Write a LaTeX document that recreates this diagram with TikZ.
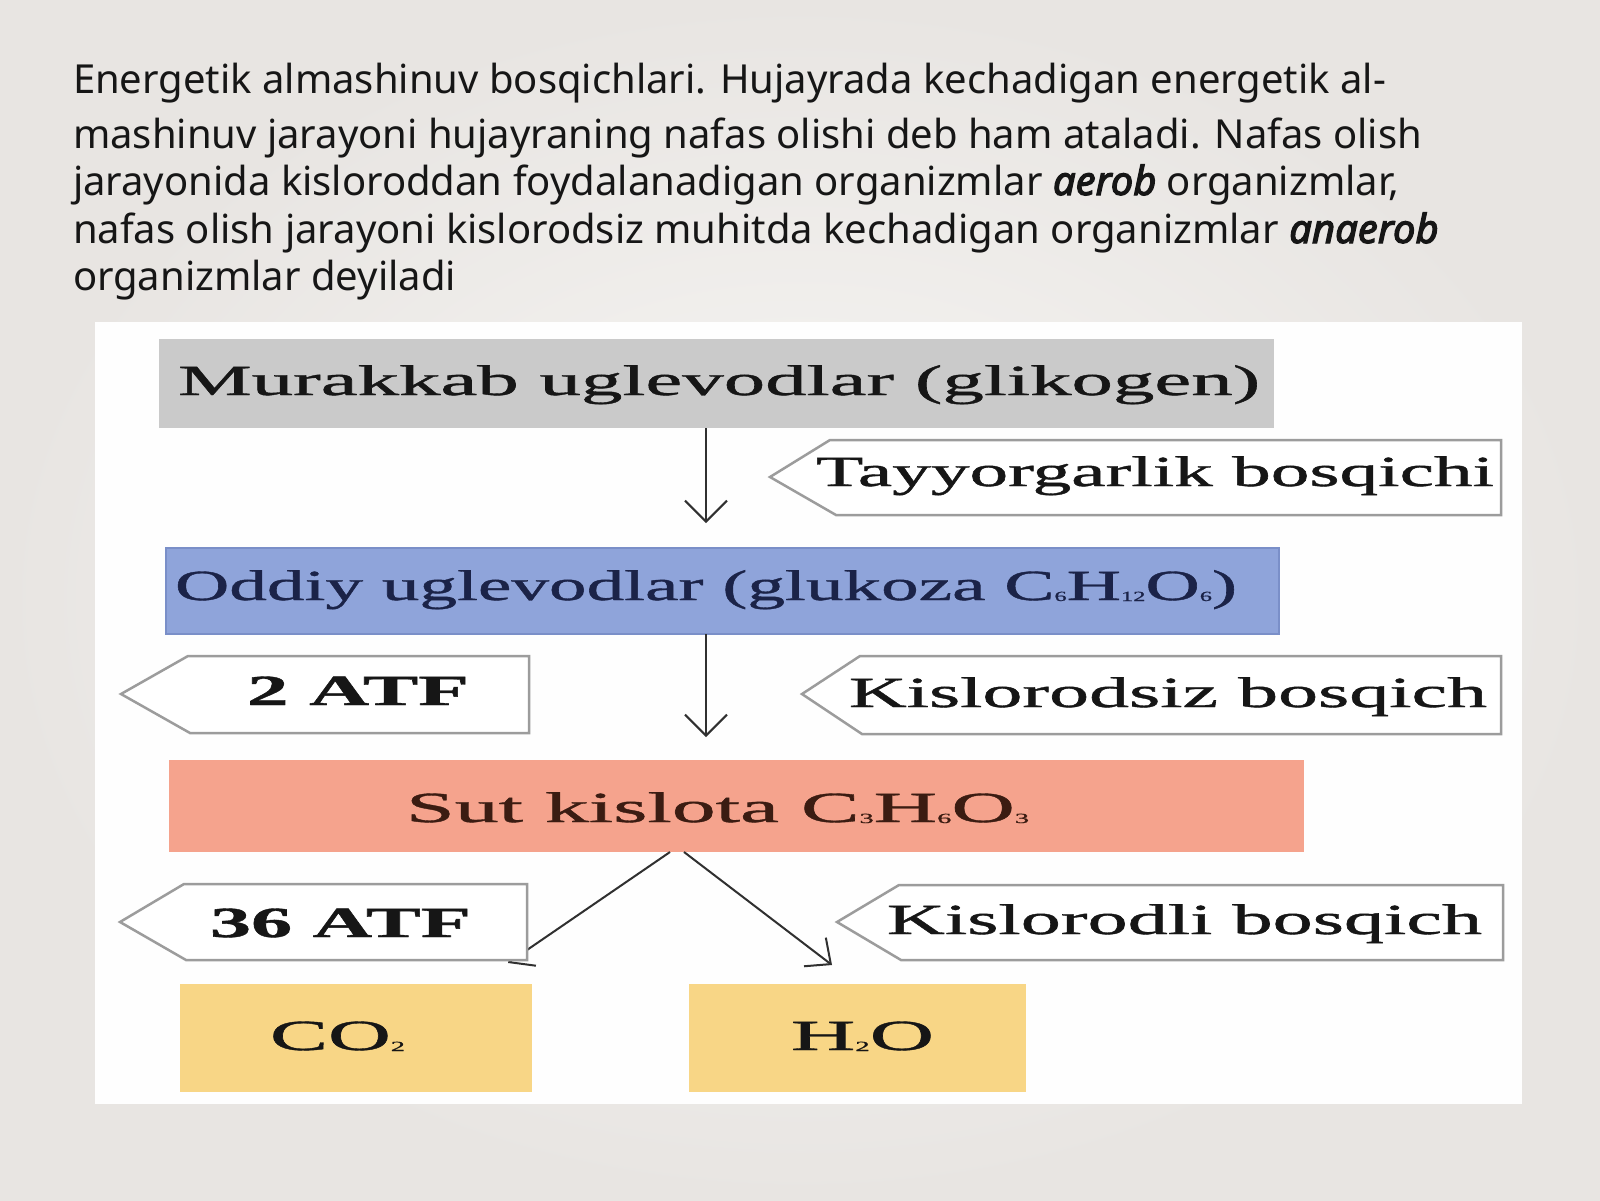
\documentclass[tikz,border=0pt]{standalone}
\usepackage{fontspec}
\usepackage{graphicx}
\setmainfont{Liberation Serif}[FakeBold=0.8]
\newfontfamily\parafont{Noto Sans}
\newfontfamily\parabi{Noto Sans}[FakeBold=3]
\usetikzlibrary{arrows.meta}
\definecolor{bgin}{HTML}{F8F7F5}
\definecolor{bgout}{HTML}{E8E5E2}
\definecolor{panelc}{HTML}{FEFEFE}
\definecolor{grayc}{HTML}{CACACA}
\definecolor{bluec}{HTML}{8FA4DA}
\definecolor{blueb}{HTML}{7A8FC8}
\definecolor{salmonc}{HTML}{F5A38D}
\definecolor{yellowc}{HTML}{F8D686}
\definecolor{pentb}{HTML}{9C9C9C}
\definecolor{arrowc}{HTML}{303030}
\definecolor{navyt}{HTML}{1B2348}
\definecolor{brownt}{HTML}{3B1C12}
\definecolor{textc}{HTML}{161616}
\newcommand{\stx}[2]{\resizebox{#1pt}{\height}{#2}}
\newcommand{\dsub}[1]{\raisebox{-1pt}{\fontsize{14}{14}\selectfont #1}}
\newcommand{\bitx}[1]{{\parabi\itshape #1}}
\begin{document}
\begin{tikzpicture}[x=1pt,y=-1pt,
  boxst/.style={inner sep=0pt, outer sep=0pt, anchor=north west},
  pent/.style={draw=pentb, line width=2.5pt, fill=white, line join=miter},
  lbl/.style={anchor=base west, inner sep=0pt, outer sep=0pt, font=\fontsize{43}{43}\selectfont},
  para/.style={anchor=base west, inner sep=0pt, outer sep=0pt, text=textc, font=\parafont\fontsize{40}{48}\selectfont},
  varr/.style={draw=arrowc, line width=2pt, -{Straight Barb[length=21pt,width=42pt]}},
  darr/.style={draw=arrowc, line width=2pt, -{Straight Barb[length=20pt,width=36pt]}}]
\useasboundingbox (0,0) rectangle (1600,1200);
\shade[inner color=bgin, outer color=bgout] (0,0) rectangle (1600,1200);
\fill[panelc] (95,322) rectangle (1522,1104);

% paragraph
\node[para] (p1) at (73,93) {Energetik almashinuv bosqichlari. Hujayrada kechadigan energetik al-};
\node[para] (p2) at (73,148) {mashinuv jarayoni hujayraning nafas olishi deb ham ataladi. Nafas olish};
\node[para] (p3) at (73,195) {jarayonida kisloroddan foydalanadigan organizmlar \bitx{aerob} organizmlar,};
\node[para] (p4) at (73,243) {nafas olish jarayoni kislorodsiz muhitda kechadigan organizmlar \bitx{anaerob}};
\node[para] (p5) at (73,290) {organizmlar deyiladi};

% boxes
\node[boxst, fill=grayc, minimum width=1115pt, minimum height=89pt] (b1) at (159,339) {};
\node[boxst, fill=bluec, draw=blueb, line width=1.5pt, minimum width=1113pt, minimum height=86pt] (b2) at (166,548) {};
\node[boxst, fill=salmonc, minimum width=1135pt, minimum height=92pt] (b3) at (169,760) {};
\node[boxst, fill=yellowc, minimum width=352pt, minimum height=108pt] (b4) at (180,984) {};
\node[boxst, fill=yellowc, minimum width=337pt, minimum height=108pt] (b5) at (689,984) {};

% arrows
\coordinate (e1) at (706,523);
\coordinate (e2) at (706,737);
\coordinate (s3) at (670,852);
\coordinate (s4) at (684,852);
\coordinate (e3) at (508,963);
\coordinate (e4) at (832,965);
\draw[varr] (b1.south -| e1) -- (e1);
\draw[varr] (b2.south -| e2) -- (e2);
\draw[darr] (s3) -- (e3);
\draw[darr] (s4) -- (e4);

% pentagon labels
\draw[pent] (770,477) -- (830,440) -- (1501,440) -- (1501,515) -- (836,515) -- cycle;
\draw[pent] (121,694) -- (188,656) -- (529,656) -- (529,733) -- (190,733) -- cycle;
\draw[pent] (802,694) -- (860,656) -- (1501,656) -- (1501,734) -- (862,734) -- cycle;
\draw[pent] (120,922) -- (184,884) -- (527,884) -- (527,960) -- (186,960) -- cycle;
\draw[pent] (837,922) -- (899,885) -- (1503,885) -- (1503,960) -- (901,960) -- cycle;

% texts
\node[lbl, text=textc] (t1) at (178,395) {\stx{1082}{Murakkab uglevodlar (glikogen)}};
\node[lbl, text=textc] (t2) at (816,486) {\stx{678}{Tayyorgarlik bosqichi}};
\node[lbl, text=navyt] (t3) at (175,600) {\stx{1062}{Oddiy uglevodlar (glukoza C\dsub{6}H\dsub{12}O\dsub{6})}};
\node[lbl, text=textc] (t4) at (247,705) {\stx{222}{\textbf{2 ATF}}};
\node[lbl, text=textc] (t5) at (849,707) {\stx{638}{Kislorodsiz bosqich}};
\node[lbl, text=brownt] (t6) at (406,822) {\stx{623}{Sut kislota C\dsub{3}H\dsub{6}O\dsub{3}}};
\node[lbl, text=textc] (t7) at (210,937) {\stx{261}{\textbf{36 ATF}}};
\node[lbl, text=textc] (t8) at (887,934) {\stx{595}{Kislorodli bosqich}};
\node[lbl, text=textc] (t9) at (270,1050) {\stx{135}{CO\dsub{2}}};
\node[lbl, text=textc] (t10) at (791,1050) {\stx{143}{H\dsub{2}O}};
\end{tikzpicture}
\end{document}
